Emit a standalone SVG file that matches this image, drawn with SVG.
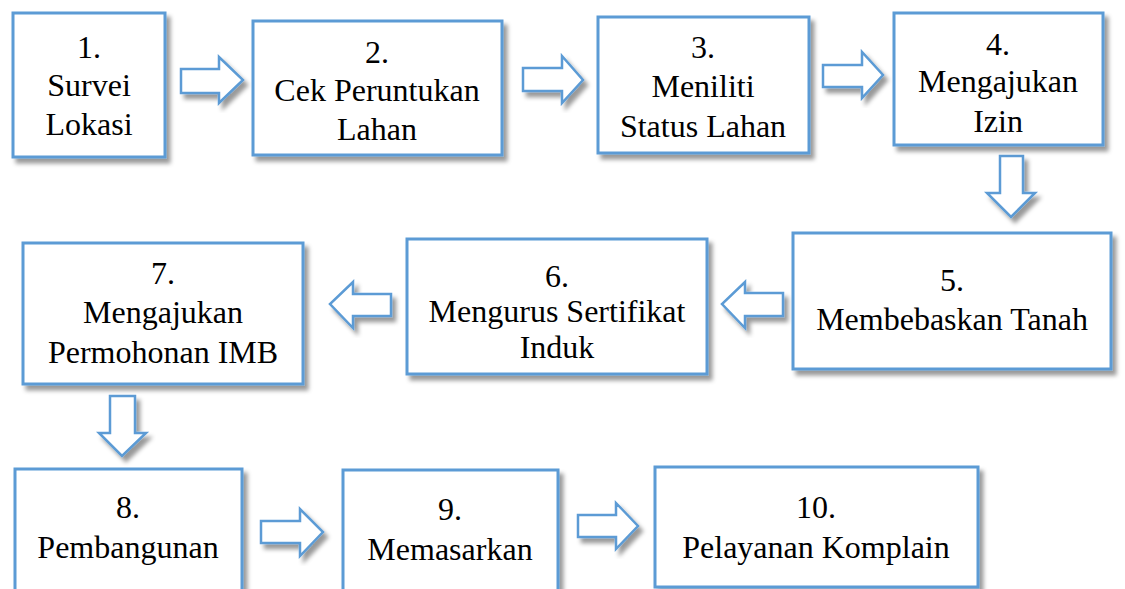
<svg xmlns="http://www.w3.org/2000/svg" width="1125" height="589" viewBox="0 0 1125 589">
<defs>
<filter id="sh" x="-20%" y="-20%" width="140%" height="140%">
<feDropShadow dx="4" dy="5" stdDeviation="2" flood-color="#000" flood-opacity="0.4"/>
</filter>
</defs>
<style>
.box{fill:#fff;stroke:#5B9BD5;stroke-width:3;filter:url(#sh)}
.arr{fill:#fff;stroke:#5B9BD5;stroke-width:2.5;stroke-linejoin:miter;filter:url(#sh)}
.t{font-family:'Liberation Serif','Times New Roman',Times,'DejaVu Serif','Noto Serif',serif;font-size:32px;fill:#000;text-anchor:middle}
</style>
<rect width="1125" height="589" fill="#fff"/>
<g id="connectors">
<polygon class="arr" points="181,69 219,69 219,57 243,80 219,103 219,93 181,93"/>
<polygon class="arr" points="523,68 562,68 562,56 583,80 562,103 562,91 523,91"/>
<polygon class="arr" points="823,65 862,65 862,52 883,75 862,98 862,87 823,87"/>
<polygon class="arr" points="1000,156 1023,156 1023,193 1035,193 1011,217 987,193 1000,193"/>
<polygon class="arr" points="783,293 745,293 745,282 722,304 745,328 745,316 783,316"/>
<polygon class="arr" points="391,294 353,294 353,282 330,304 353,328 353,316 391,316"/>
<polygon class="arr" points="110,396 135,396 135,433 146,433 122,456 99,433 110,433"/>
<polygon class="arr" points="261,521 300,521 300,509 323,532 300,556 300,543 261,543"/>
<polygon class="arr" points="578,515 616,515 616,503 638,526 616,549 616,537 578,537"/>
</g>
<g class="t">
<g id="n1"><rect class="box" x="13" y="13" width="152" height="144"/>
<text x="89" y="58">1.</text><text x="89" y="96">Survei</text><text x="89" y="135">Lokasi</text></g>
<g id="n2"><rect class="box" x="253" y="21" width="249" height="134"/>
<text x="377" y="63">2.</text><text x="377" y="101">Cek Peruntukan</text><text x="377" y="140">Lahan</text></g>
<g id="n3"><rect class="box" x="598" y="17" width="211" height="136"/>
<text x="703" y="58">3.</text><text x="703" y="97">Meniliti</text><text x="703" y="137">Status Lahan</text></g>
<g id="n4"><rect class="box" x="894" y="13" width="209" height="132"/>
<text x="998" y="55">4.</text><text x="998" y="92">Mengajukan</text><text x="998" y="132">Izin</text></g>
<g id="n5"><rect class="box" x="793" y="233" width="318" height="136"/>
<text x="952" y="291">5.</text><text x="952" y="330">Membebaskan Tanah</text></g>
<g id="n6"><rect class="box" x="407" y="239" width="300" height="135"/>
<text x="557" y="287">6.</text><text x="557" y="322">Mengurus Sertifikat</text><text x="557" y="358">Induk</text></g>
<g id="n7"><rect class="box" x="23" y="243" width="280" height="141"/>
<text x="163" y="284">7.</text><text x="163" y="323">Mengajukan</text><text x="163" y="363">Permohonan IMB</text></g>
<g id="n8"><rect class="box" x="15" y="469" width="227" height="140"/>
<text x="128" y="518">8.</text><text x="128" y="558">Pembangunan</text></g>
<g id="n9"><rect class="box" x="343" y="470" width="215" height="140"/>
<text x="450" y="520">9.</text><text x="450" y="560">Memasarkan</text></g>
<g id="n10"><rect class="box" x="655" y="467" width="323" height="120"/>
<text x="816" y="518">10.</text><text x="816" y="558">Pelayanan Komplain</text></g>
</g>
</svg>
